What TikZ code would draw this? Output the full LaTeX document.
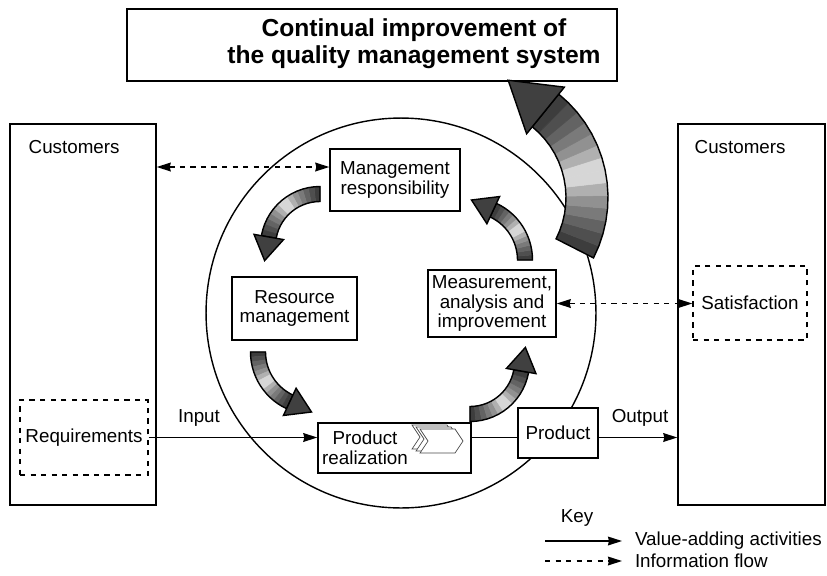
\documentclass[tikz,border=0pt]{standalone}
\usepackage{fontspec}
\setmainfont{Liberation Sans}
\usetikzlibrary{arrows.meta,positioning}

% curved band arrow: cx, cy, r, half width, from angle, to angle, head length, head half width
\newcommand{\bandarrow}[8]{%
  \pgfmathsetmacro\sg{ifthenelse(#6>#5,1,-1)}
  \foreach \i in {0,...,13}{
    \pgfmathsetmacro\ta{#5+(#6-#5)*\i/14}
    \pgfmathsetmacro\tb{#5+(#6-#5)*(\i+1)/14}
    \pgfmathsetmacro\lev{int(80*abs(2*(\i+0.5)/14-1)^0.6)}
    \filldraw[fill=black!\lev,draw=black!\lev,line width=0.3pt]
      ({#1+(#3-#4)*cos(\ta)},{#2+(#3-#4)*sin(\ta)}) -- ({#1+(#3+#4)*cos(\ta)},{#2+(#3+#4)*sin(\ta)})
      -- ({#1+(#3+#4)*cos(\tb)},{#2+(#3+#4)*sin(\tb)}) -- ({#1+(#3-#4)*cos(\tb)},{#2+(#3-#4)*sin(\tb)}) -- cycle;
  }
  \draw plot[domain=#5:#6,samples=15] ({#1+(#3+#4)*cos(\x)},{#2+(#3+#4)*sin(\x)})
    -- plot[domain=#6:#5,samples=15] ({#1+(#3-#4)*cos(\x)},{#2+(#3-#4)*sin(\x)}) -- cycle;
  \filldraw[fill=black!75] ({#1+(#3+#8)*cos(#6)},{#2+(#3+#8)*sin(#6)})
    -- ({#1+#3*cos(#6)-(\sg)*#7*sin(#6)},{#2+#3*sin(#6)+(\sg)*#7*cos(#6)})
    -- ({#1+(#3-#8)*cos(#6)},{#2+(#3-#8)*sin(#6)}) -- cycle;
}

\begin{document}
\begin{tikzpicture}[x=0.02cm,y=-0.02cm,>={Stealth[length=8pt,width=5pt,inset=0.6pt]},thick,
font=\fontsize{10.7}{11.2}\selectfont]
\tikzstyle{box}=[draw,fill=white,thick,align=center,inner sep=0pt]
\tikzstyle{dbox}=[box,dashed]
\tikzstyle{txt}=[inner sep=0pt,align=center]

\useasboundingbox (0,0) rectangle (827,575);

\node[draw,circle,thick,minimum size=7.8cm,inner sep=0pt] (qms) at (401,313) {};

\node[box,minimum width=9.8cm,minimum height=1.44cm] (title) at (372,45) {};
\node[txt,font=\fontsize{14}{15.3}\selectfont\bfseries] (titletxt) at (414,44)
  {Continual improvement of\\the quality management system};

\node[box,minimum width=2.92cm,minimum height=7.62cm] (custL) at (83,314.5) {};
\node[box,minimum width=2.94cm,minimum height=7.62cm] (custR) at (751.5,314.5) {};
\node[txt,anchor=base west] (custLtxt) at (28,153) {Customers};
\node[txt,anchor=base west] (custRtxt) at (694,153) {Customers};

\node[dbox,minimum width=2.56cm,minimum height=1.5cm] (req) at (84,437.5) {Requirements};
\node[dbox,minimum width=2.28cm,minimum height=1.48cm] (satis) at (750,303) {Satisfaction};

\node[box,minimum width=2.6cm,minimum height=1.24cm] (mgmt) at (395,180) {Management\\responsibility};
\node[box,minimum width=2.5cm,minimum height=1.26cm] (resource) at (294.5,308.5) {Resource\\management};
\node[box,minimum width=2.56cm,minimum height=1.34cm] (measure) at (492,303.5) {Measurement,\\analysis and\\improvement};
\node[box,minimum width=3.06cm,minimum height=1cm] (realize) at (394.5,448) {};
\node[txt] (realtxt) at (365,448) {Product\\realization};
\node[box,minimum width=1.6cm,minimum height=1cm] (prod) at (558,433) {Product};

% process icon
\foreach \d in {8,4,0}
  \filldraw[fill=white,thin,draw=black!70] ({420-\d},{429-\d/2}) -- ++(35,0) -- ++(8,12) -- ++(-8,12)
    -- ++(-35,0) -- ++(8,-12) -- cycle;

% the cycle
\bandarrow{320}{246}{52}{7.5}{270}{190}{24}{15}
\bandarrow{313}{352}{55}{7.5}{180}{115}{24}{15}
\bandarrow{470}{362}{52}{7.5}{90}{10}{24}{15}
\bandarrow{470}{260}{55}{7.5}{0}{-65}{24}{15}
\bandarrow{475}{197.5}{112}{21}{27}{-51}{48}{30}

\path[->] (req.east) edge (req.east -| realize.west)
(req.east -| realize.east) edge[-] (req.east -| prod.west)
(req.east -| prod.east) edge (req.east -| custR.west);
\node[txt] (inlbl) at (199,418) {Input};
\node[txt] (outlbl) at (640,418) {Output};

\path[<->,dashed] ([yshift=0.26cm]mgmt.west -| custL.east) edge ([yshift=0.26cm]mgmt.west)
(measure.east) edge (measure.east -| satis.west);

% key
\node[txt] (key) at (577,518) {Key};
\coordinate (va) at (545,541);
\coordinate (vb) at (622,541);
\coordinate (ia) at (545,561);
\coordinate (ib) at (622,561);
\path[->] (va) edge (vb)
(ia) edge[dashed] (ib);
\node[txt,right=7pt of vb] (valtxt) {Value-adding activities};
\node[txt,right=7pt of ib] (inftxt) {Information flow};
\end{tikzpicture}
\end{document}
